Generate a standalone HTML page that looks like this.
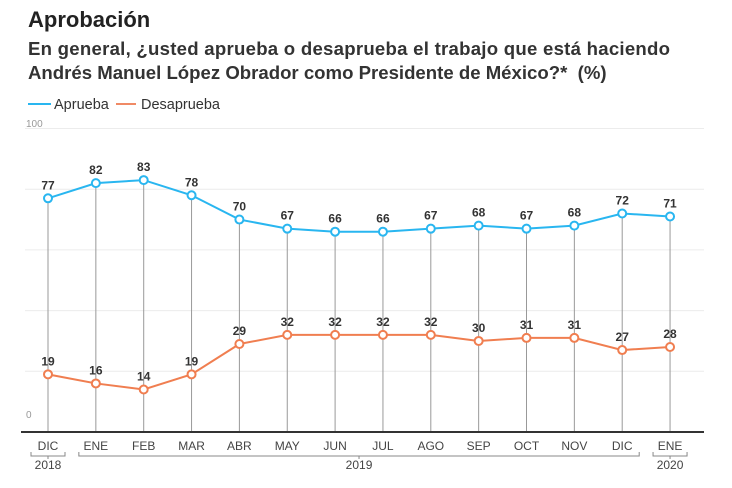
<!DOCTYPE html>
<html><head><meta charset="utf-8"><style>
body{margin:0;background:#fff;font-family:"Liberation Sans",sans-serif;}
#wrap{position:relative;width:732px;height:488px;overflow:hidden}
</style></head><body>
<div id="wrap">
<svg id="chart" width="732" height="488" xmlns="http://www.w3.org/2000/svg">
<text x="28" y="27" font-size="22" font-weight="bold" fill="#222">Aprobación</text>
<text x="28" y="55" font-size="18.6" font-weight="bold" fill="#333" textLength="642">En general, ¿usted aprueba o desaprueba el trabajo que está haciendo</text>
<text x="28" y="79" font-size="18.6" font-weight="bold" fill="#333" xml:space="preserve">Andrés Manuel López Obrador como Presidente de México?*  (%)</text>
<g>
<line x1="28" y1="104" x2="51" y2="104" stroke="#29b6f0" stroke-width="2"/>
<text x="54" y="109" font-size="14.5" fill="#333">Aprueba</text>
<line x1="116" y1="104" x2="136" y2="104" stroke="#f08a65" stroke-width="2"/>
<text x="141" y="109" font-size="14.5" fill="#333">Desaprueba</text>
</g>
<g id="plot"></g>
</svg>
</div>
<script>
const months = ["DIC","ENE","FEB","MAR","ABR","MAY","JUN","JUL","AGO","SEP","OCT","NOV","DIC","ENE"];
const aprueba = [77,82,83,78,70,67,66,66,67,68,67,68,72,71];
const desaprueba = [19,16,14,19,29,32,32,32,32,30,31,31,27,28];
const gridTicks = [0,20,40,60,80,100];
const years = [{label:"2018",from:0,to:0},{label:"2019",from:1,to:12},{label:"2020",from:13,to:13}];

const NS="http://www.w3.org/2000/svg";
const g=document.getElementById('plot');
const X=i=>48+i*47.85;
const Y=v=>432-v*3.035;
function el(t,a,parent){const e=document.createElementNS(NS,t);for(const k in a)e.setAttribute(k,a[k]);(parent||g).appendChild(e);return e;}
gridTicks.forEach(t=>{if(t===0)return;
 const l=el('line',{x1:25,x2:704,y1:Y(t),y2:Y(t),stroke:'#ececec','stroke-width':1});
 
 });
[[0,"0",418],[100,"100",127]].forEach(([v,s,y])=>{
 const t=el('text',{x:26,y:y,'font-size':10,fill:'#999'});t.textContent=s;
 
 });
months.forEach((m,i)=>{
 const l=el('line',{x1:X(i),x2:X(i),y1:Y(aprueba[i]),y2:432,stroke:'#999','stroke-width':1});
 
 
 const t=el('text',{x:X(i),y:450,'font-size':12,fill:'#444','text-anchor':'middle'});t.textContent=m;
 
 });
const ax=el('line',{x1:21,x2:704,y1:432,y2:432,stroke:'#333','stroke-width':2});


years.forEach(yr=>{
 const a=X(yr.from)-17,b=X(yr.to)+17,m=(a+b)/2;
 const p=el('path',{d:`M${a} 452 v4 H${b} v-4 M${m} 456 v3`,stroke:'#888',fill:'none','stroke-width':1});
 
 
 const t=el('text',{x:m,y:469,'font-size':12,fill:'#444','text-anchor':'middle'});t.textContent=yr.label;
 
 });
function series(vals,color,name){
 const pl=el('polyline',{points:vals.map((v,i)=>X(i)+','+Y(v)).join(' '),fill:'none',stroke:color,'stroke-width':2});
 
 
 vals.forEach((v,i)=>{
  const c=el('circle',{cx:X(i),cy:Y(v),r:4,fill:'#fff',stroke:color,'stroke-width':2});
  
  
  const t=el('text',{x:X(i),y:Y(v)-9,'font-size':12,'font-weight':'bold',fill:'#333','text-anchor':'middle'});t.textContent=v;
  
  });}
series(aprueba,'#29b6f0','aprueba');
series(desaprueba,'#f07e50','desaprueba');
</script>
</body></html>
